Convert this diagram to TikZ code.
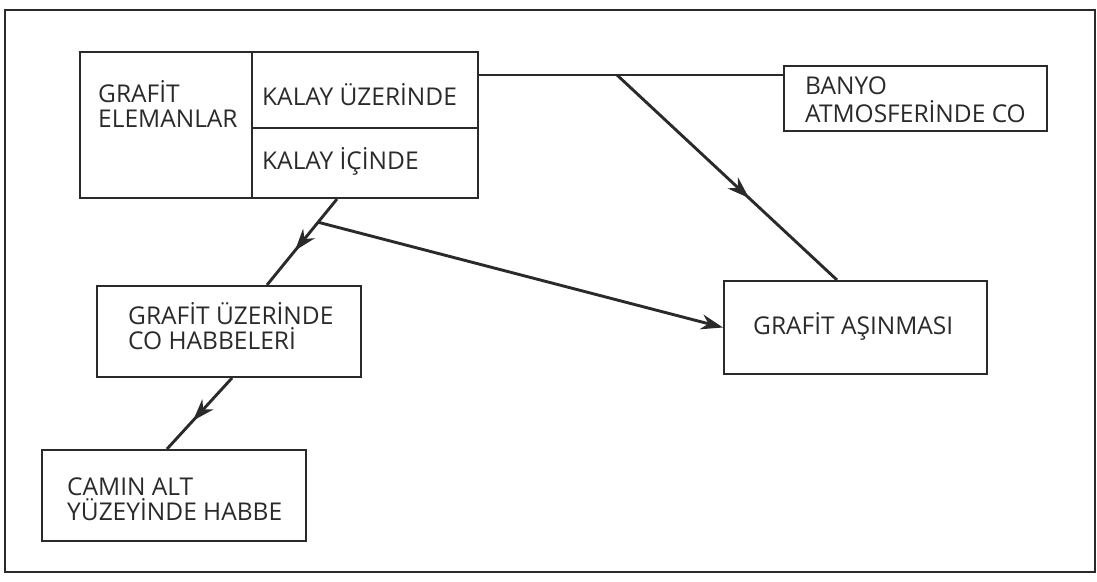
\documentclass[tikz,border=0pt]{standalone}
\usepackage{fontspec}
\setmainfont{Open Sans}
\usetikzlibrary{arrows.meta,decorations.markings,calc}
\definecolor{ink}{HTML}{2A2A2A}
\begin{document}
\begin{tikzpicture}[x=1pt,y=-1pt,
  box/.style={draw=ink,line width=2pt,inner sep=0pt,rectangle},
  lbl/.style={inner sep=0pt,align=left,anchor=base west,font=\fontsize{24.5}{25}\selectfont,text=ink},
  conn/.style={draw=ink,line width=2.9pt},
  tip/.style={-{Stealth[length=22pt,width=15pt,inset=7pt]}},
  midarrow/.style={postaction={decorate},decoration={markings,mark=at position #1 with {\arrow{Stealth[length=22pt,width=15pt,inset=7pt]}}}}
]
\useasboundingbox (0,0) rectangle (1097,581);
% outer frame
\draw[ink,line width=2pt] (5,10) rectangle (1095,572);

% boxes
\node[box,minimum width=398pt,minimum height=146pt] (main) at (279,125) {};
\node[box,minimum width=263pt,minimum height=65pt] (banyo) at (915.5,98.5) {};
\node[box,minimum width=263pt,minimum height=93pt] (asinma) at (855.5,327.5) {};
\node[box,minimum width=264pt,minimum height=91pt] (grafitco) at (229,331.5) {};
\node[box,minimum width=264pt,minimum height=91pt] (camin) at (174,495.5) {};

% dividers of the main box
\coordinate (divx) at (252,0);
\coordinate (divy) at (0,127.5);
\draw[ink,line width=2pt] (divx |- main.north) -- (divx |- main.south);
\draw[ink,line width=2pt] (divx |- divy) -- (main.east |- divy);

% texts (base anchor = baseline of the last line)
\node[lbl] (tGE) at (98,127) {GRAFİT\\ELEMANLAR};
\node[lbl] (tKU) at (262,105) {KALAY ÜZERİNDE};
\node[lbl] (tKI) at (262,169) {KALAY İÇİNDE};
\node[lbl,font=\fontsize{24.5}{28}\selectfont] (tBA) at (805,122) {BANYO\\ATMOSFERİNDE CO};
\node[lbl] (tAS) at (753,334) {GRAFİT AŞINMASI};
\node[lbl] (tGC) at (128,349) {GRAFİT ÜZERİNDE\\CO HABBELERİ};
\node[lbl] (tCA) at (67,520) {CAMIN ALT\\YÜZEYİNDE HABBE};

% connectors
\coordinate (jTop) at (617,75);
\coordinate (aTop) at (837,0);
\draw[conn] (jTop -| main.east) -- (jTop -| banyo.west);
\draw[conn,midarrow=0.6] (jTop) -- (aTop |- asinma.north);

\coordinate (bx1) at (337,0);
\coordinate (bx2) at (267,0);
\coordinate (p1) at (bx1 |- main.south);
\coordinate (p2) at (bx2 |- grafitco.north);
\draw[conn,midarrow=0.6] (p1) -- (p2);
\coordinate (jLow) at ($(p1)!0.27!(p2)$);
\draw[conn,tip] (jLow) -- (asinma.west);

\coordinate (cx1) at (232,0);
\coordinate (cx2) at (167,0);
\draw[conn,midarrow=0.6] (cx1 |- grafitco.south) -- (cx2 |- camin.north);
\end{tikzpicture}
\end{document}
